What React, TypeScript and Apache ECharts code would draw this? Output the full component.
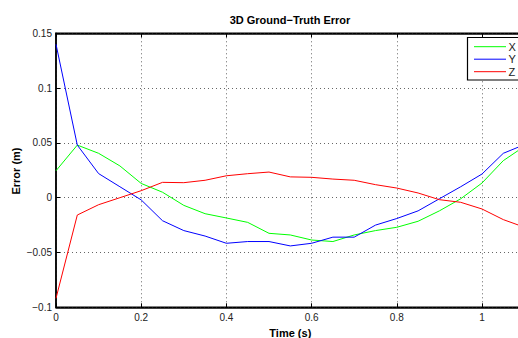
import { useEffect, useRef } from 'react';
import * as echarts from 'echarts';

const times = [0, 0.05, 0.1, 0.15, 0.2, 0.25, 0.3, 0.35, 0.4, 0.45, 0.5, 0.55, 0.6, 0.65, 0.7, 0.75, 0.8, 0.85, 0.9, 0.95, 1.0, 1.05, 1.1];
const xErr = [0.0246, 0.048, 0.0405, 0.029, 0.013, 0.005, -0.007, -0.0146, -0.0185, -0.0225, -0.0325, -0.034, -0.0386, -0.04, -0.034, -0.03, -0.027, -0.0215, -0.012, -0.001, 0.0134, 0.0338, 0.047];
const yErr = [0.14, 0.048, 0.022, 0.01, -0.002, -0.021, -0.03, -0.035, -0.0416, -0.04, -0.04, -0.044, -0.0416, -0.036, -0.036, -0.025, -0.019, -0.012, -0.001, 0.01, 0.0216, 0.0405, 0.0485];
const zErr = [-0.0918, -0.0158, -0.0064, 0.0, 0.0064, 0.014, 0.0137, 0.0159, 0.02, 0.0219, 0.0234, 0.019, 0.0186, 0.017, 0.0159, 0.0119, 0.0088, 0.0043, -0.0018, -0.0042, -0.0103, -0.02, -0.027];
const seriesNames = ['X', 'Y', 'Z'];
const seriesColors = ['#00ff00', '#0000ff', '#ff0000'];

const FONT = '"Liberation Sans", Arial, sans-serif';

function fmt(v: number): string {
  if (Math.abs(v) < 1e-9) return '0';
  const s = String(+Math.abs(v).toFixed(3));
  return (v < 0 ? '\u2212' : '') + s;
}

export default function App() {
  const ref = useRef<HTMLDivElement>(null);
  useEffect(() => {
    const chart = echarts.init(ref.current!, null, { renderer: 'svg' });
    const data = [xErr, yErr, zErr];
    const gridLeft = 56;
    const gridTop = 33.3;
    const gridW = 1.1 * 426;
    const gridH = 274;
    const legendRows = [46.7, 59.2, 71.7];
    chart.setOption({
      animation: false,
      backgroundColor: '#fff',
      grid: {
        left: gridLeft,
        top: gridTop,
        width: gridW,
        height: gridH,
        show: true,
        borderColor: '#000',
        borderWidth: 1.5,
        backgroundColor: '#fff',
        containLabel: false,
        outerBoundsMode: 'none',
      },
      xAxis: [
        {
          type: 'value',
          min: 0,
          max: 1.1,
          interval: 0.2,
          position: 'bottom',
          name: 'Time (s)',
          nameLocation: 'middle',
          nameGap: 17,
          nameTextStyle: { fontFamily: FONT, fontWeight: 'bold', fontSize: 11, color: '#000' },
          axisLine: { show: true, onZero: false, lineStyle: { color: '#000', width: 1.5 } },
          axisTick: { show: true, inside: true, length: 4, lineStyle: { color: '#000' } },
          axisLabel: {
            fontFamily: FONT,
            fontSize: 10,
            color: '#222',
            margin: 5,
            formatter: (v: number) => (Math.abs(v * 5 - Math.round(v * 5)) < 1e-6 ? fmt(v) : ''),
          },
          splitLine: { show: true, lineStyle: { color: '#666', type: [1, 3], width: 1 } },
        },
        {
          type: 'value',
          min: 0,
          max: 1.1,
          interval: 0.2,
          position: 'top',
          axisLine: { show: true, onZero: false, lineStyle: { color: '#000', width: 1.5 } },
          axisTick: { show: true, inside: true, length: 4, lineStyle: { color: '#000' } },
          axisLabel: { show: false },
          splitLine: { show: false },
        },
      ],
      yAxis: {
        type: 'value',
        min: -0.1,
        max: 0.15,
        interval: 0.05,
        axisLine: { show: true, onZero: false, lineStyle: { color: '#000', width: 1.5 } },
        axisTick: { show: true, inside: true, length: 4, lineStyle: { color: '#000' } },
        axisLabel: { fontFamily: FONT, fontSize: 10, color: '#222', margin: 4, formatter: (v: number) => fmt(v) },
        splitLine: { show: true, lineStyle: { color: '#666', type: [1, 3], width: 1 } },
      },
      series: data.map((vals, i) => ({
        name: seriesNames[i],
        type: 'line',
        xAxisIndex: 0,
        data: times.map((t, j) => [t, vals[j]]),
        showSymbol: false,
        symbol: 'none',
        lineStyle: { color: seriesColors[i], width: 1 },
        itemStyle: { color: seriesColors[i] },
        z: 3,
      })),
      graphic: [
        {
          type: 'text',
          x: 290,
          y: 19.5,
          z: 100,
          style: {
            text: '3D Ground\u2212Truth Error',
            font: `bold 11px ${FONT}`,
            fill: '#000',
            align: 'center',
            verticalAlign: 'middle',
          },
        },
        {
          type: 'text',
          x: 16,
          y: 171,
          rotation: Math.PI / 2,
          z: 100,
          style: {
            text: 'Error (m)',
            font: `bold 11px ${FONT}`,
            fill: '#000',
            align: 'center',
            verticalAlign: 'middle',
          },
        },
        {
          type: 'rect',
          z: 100,
          shape: { x: 467.5, y: 37.5, width: 80, height: 42.5 },
          style: { fill: '#fff', stroke: '#000', lineWidth: 1.2 },
        },
        ...seriesNames.flatMap((n, i) => [
          {
            type: 'line',
            z: 101,
            shape: { x1: 474, y1: legendRows[i], x2: 506, y2: legendRows[i] },
            style: { stroke: seriesColors[i], lineWidth: 1 },
          },
          {
            type: 'text',
            z: 101,
            x: 508.5,
            y: legendRows[i],
            style: { text: n, font: `11px ${FONT}`, fill: '#222', align: 'left', verticalAlign: 'middle' },
          },
        ]),
      ],
    });
    return () => chart.dispose();
  }, []);
  return (
    <div
      ref={ref}
      style={{ position: 'absolute', left: 0, top: 0, width: 518, height: 338, background: '#fff' }}
    />
  );
}
